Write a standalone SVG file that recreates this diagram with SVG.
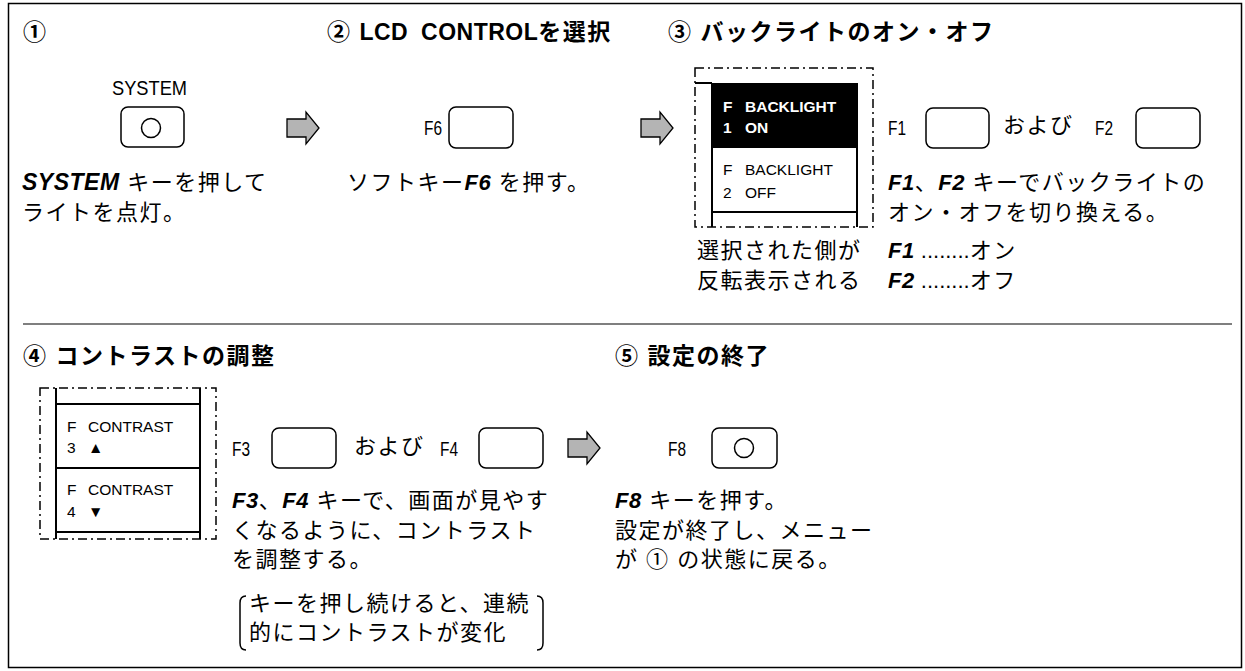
<svg xmlns="http://www.w3.org/2000/svg" width="1245" height="671" viewBox="0 0 1245 671">
<style>
.frame{fill:none;stroke:#000;stroke-width:1.5}
.div{stroke:#555;stroke-width:1.5}
.t{font-family:"Liberation Sans","Noto Sans CJK JP",sans-serif;fill:#000}
.title{font-size:23px;font-weight:bold;letter-spacing:1.5px}
.body{font-size:22px;letter-spacing:1.5px}
.bi{font-weight:bold;font-style:italic;letter-spacing:0.5px}
.lat{letter-spacing:0.5px}
.lbl{font-size:20px}
.key{fill:#fff;stroke:#000;stroke-width:1.5}
.arrow{fill:#b4b4b4;stroke:#000;stroke-width:1.3}
.dash{fill:none;stroke:#000;stroke-width:1.5;stroke-dasharray:9 4 2 4}
.ln{stroke:#000;stroke-width:2;fill:none}
.menu{font-size:15.5px}
.wb{font-weight:bold;fill:#fff}
.br{fill:none;stroke:#000;stroke-width:1.5}
</style>
<rect class="frame" x="8.5" y="3.5" width="1233" height="664"/>
<line class="div" x1="23" y1="324" x2="1232" y2="324"/>

<g id="step1">
<text class="t title" x="23" y="40">①</text>
<text class="t lbl" x="112" y="95" textLength="75" lengthAdjust="spacingAndGlyphs">SYSTEM</text>
<rect class="key" x="121" y="107" width="63" height="40" rx="7"/>
<circle cx="151" cy="128" r="9.5" fill="none" stroke="#000" stroke-width="1.5"/>
<text class="t body" x="22" y="190"><tspan class="bi" font-size="23">SYSTEM</tspan> キーを押して</text>
<text class="t body" x="22" y="220">ライトを点灯。</text>
</g>

<g id="step2">
<text class="t title" x="327" y="40">② <tspan class="lat">LCD</tspan> <tspan class="lat" dx="5">CONTROL</tspan>を選択</text>
<text class="t lbl" x="424" y="135" textLength="18" lengthAdjust="spacingAndGlyphs">F6</text>
<rect class="key" x="449" y="107" width="64" height="41" rx="7"/>
<text class="t body" x="347" y="190">ソフトキー<tspan class="bi">F6</tspan> を押す。</text>
</g>

<g id="step3">
<text class="t title" x="668" y="40">③ バックライトのオン・オフ</text>
<rect x="712" y="83" width="145" height="65" fill="#000"/>
<rect class="dash" x="695" y="68" width="178" height="159"/>
<line class="ln" x1="695" y1="83" x2="712" y2="83"/>
<line class="ln" x1="712" y1="83" x2="712" y2="227"/>
<line class="ln" x1="857" y1="83" x2="857" y2="227"/>
<line class="ln" x1="712" y1="212" x2="857" y2="212"/>
<text class="t menu wb" x="723" y="112">F</text>
<text class="t menu wb" x="745" y="112">BACKLIGHT</text>
<text class="t menu wb" x="723" y="133">1</text>
<text class="t menu wb" x="745" y="133">ON</text>
<text class="t menu" x="723" y="175">F</text>
<text class="t menu" x="745" y="175">BACKLIGHT</text>
<text class="t menu" x="723" y="198">2</text>
<text class="t menu" x="745" y="198">OFF</text>
<text class="t body" x="697" y="258">選択された側が</text>
<text class="t body" x="697" y="288">反転表示される</text>
<text class="t lbl" x="888" y="135" textLength="18" lengthAdjust="spacingAndGlyphs">F1</text>
<rect class="key" x="926" y="108" width="63" height="40" rx="7"/>
<text class="t body" x="1003" y="133">および</text>
<text class="t lbl" x="1095" y="135" textLength="18" lengthAdjust="spacingAndGlyphs">F2</text>
<rect class="key" x="1136" y="108" width="64" height="40" rx="7"/>
<text class="t body" x="888" y="190"><tspan class="bi">F1</tspan>、<tspan class="bi">F2</tspan> キーでバックライトの</text>
<text class="t body" x="888" y="220">オン・オフを切り換える。</text>
<text class="t body" x="888" y="258"><tspan class="bi">F1</tspan><tspan letter-spacing="0"> ........</tspan>オン</text>
<text class="t body" x="888" y="288"><tspan class="bi">F2</tspan><tspan letter-spacing="0"> ........</tspan>オフ</text>
</g>

<g id="step4">
<text class="t title" x="23" y="364">④ コントラストの調整</text>
<rect class="dash" x="40" y="388" width="176" height="151"/>
<line class="ln" x1="56" y1="388" x2="56" y2="539"/>
<line class="ln" x1="200" y1="388" x2="200" y2="539"/>
<line class="ln" x1="56" y1="404" x2="200" y2="404"/>
<line class="ln" x1="56" y1="468" x2="200" y2="468"/>
<line class="ln" x1="56" y1="532" x2="200" y2="532"/>
<text class="t menu" x="67" y="432">F</text>
<text class="t menu" x="88" y="432">CONTRAST</text>
<text class="t menu" x="67" y="453">3</text>
<text class="t menu" x="88" y="453">▲</text>
<text class="t menu" x="67" y="495">F</text>
<text class="t menu" x="88" y="495">CONTRAST</text>
<text class="t menu" x="67" y="517">4</text>
<text class="t menu" x="88" y="517">▼</text>
<text class="t lbl" x="232" y="456" textLength="18" lengthAdjust="spacingAndGlyphs">F3</text>
<rect class="key" x="272" y="428" width="64" height="40" rx="7"/>
<text class="t body" x="354" y="454">および</text>
<text class="t lbl" x="440" y="456" textLength="18" lengthAdjust="spacingAndGlyphs">F4</text>
<rect class="key" x="479" y="428" width="64" height="40" rx="7"/>
<text class="t body" x="232" y="508"><tspan class="bi">F3</tspan>、<tspan class="bi">F4</tspan> キーで、画面が見やす</text>
<text class="t body" x="232" y="538">くなるように、コントラスト</text>
<text class="t body" x="232" y="567">を調整する。</text>
<path class="br" d="M246,596 Q240,596 240,603 V643 Q240,650 246,650"/>
<path class="br" d="M537,596 Q543,596 543,603 V643 Q543,650 537,650"/>
<text class="t body" x="249" y="611">キーを押し続けると、連続</text>
<text class="t body" x="249" y="640">的にコントラストが変化</text>
</g>

<g id="step5">
<text class="t title" x="615" y="364">⑤ 設定の終了</text>
<text class="t lbl" x="668" y="456" textLength="18" lengthAdjust="spacingAndGlyphs">F8</text>
<rect class="key" x="712" y="428" width="65" height="40" rx="7"/>
<circle cx="744" cy="448" r="9.5" fill="none" stroke="#000" stroke-width="1.5"/>
<text class="t body" x="615" y="508"><tspan class="bi">F8</tspan> キーを押す。</text>
<text class="t body" x="615" y="538">設定が終了し、メニュー</text>
<text class="t body" x="615" y="567">が ① の状態に戻る。</text>
</g>

<g id="connectors">
<path class="arrow" d="M287,119 H306 V112 L319,128 L306,144 V137 H287 Z"/>
<path class="arrow" d="M641,119 H660 V112 L673,128 L660,144 V137 H641 Z"/>
<path class="arrow" d="M568,439 H587 V432 L600,448 L587,464 V457 H568 Z"/>
</g>
</svg>
